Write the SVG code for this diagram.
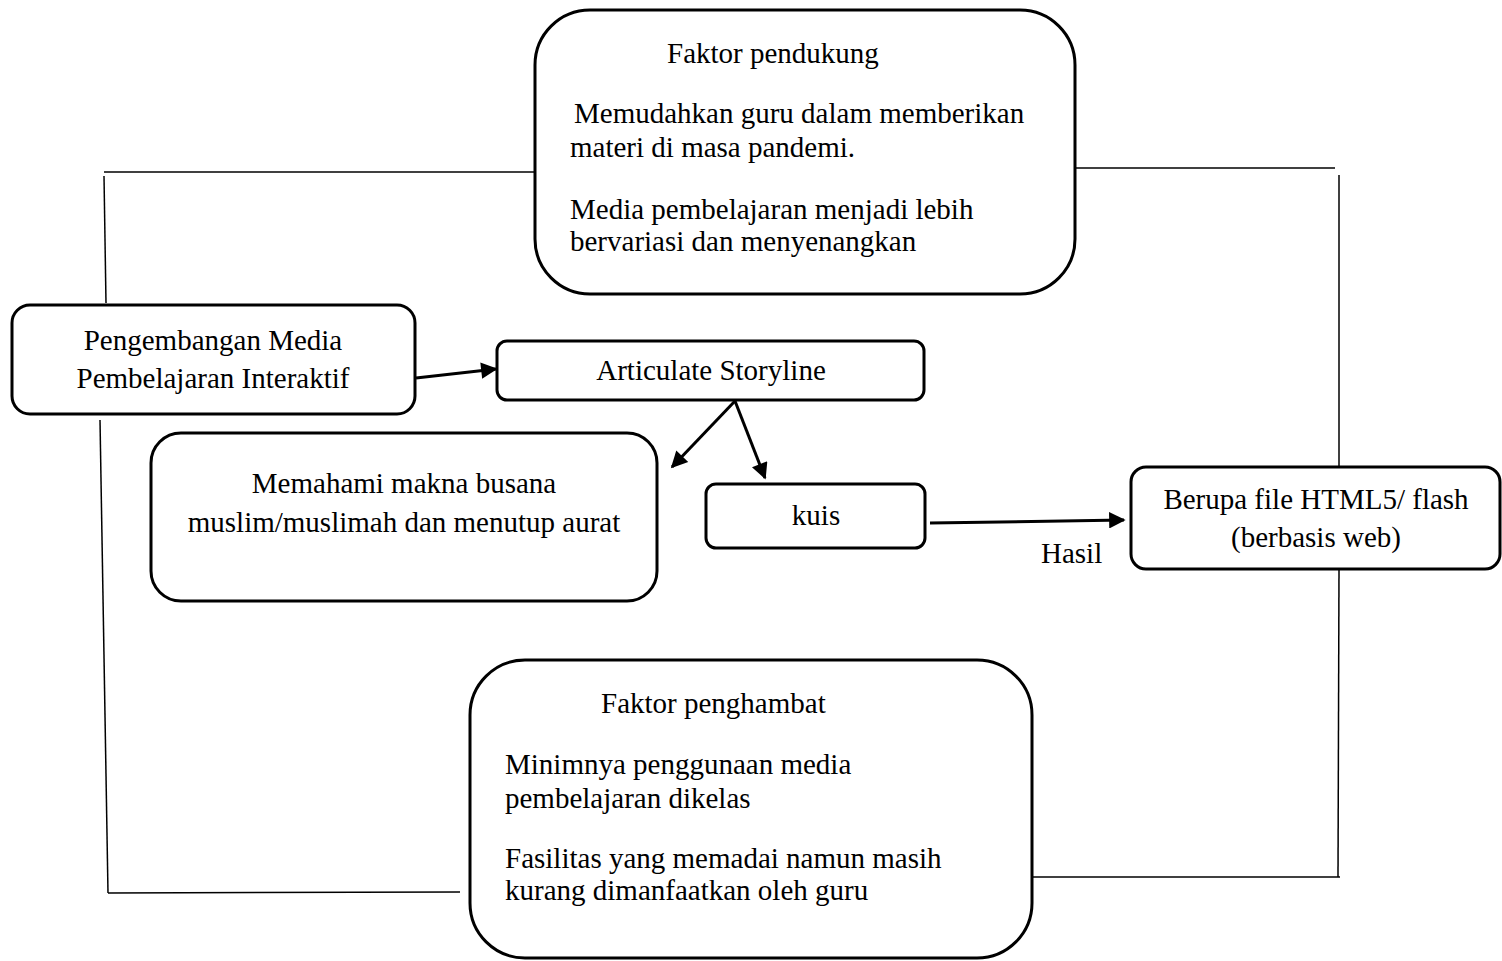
<svg xmlns="http://www.w3.org/2000/svg" width="1502" height="961" viewBox="0 0 1502 961">
<style>
.box{fill:#fff;stroke:#000;stroke-width:3}
.ln{fill:none;stroke:#000;stroke-width:1.5}
.ar{fill:none;stroke:#000;stroke-width:3}
text{font-family:"Liberation Serif","Times New Roman",serif;font-size:29px;fill:#000}
.c{text-anchor:middle}
</style>
<defs>
<marker id="ah" viewBox="0 0 10 10" refX="9" refY="5" markerWidth="6" markerHeight="5.5" orient="auto" markerUnits="strokeWidth">
<path d="M0,0 L10,5 L0,10 Z" fill="#000"/>
</marker>
</defs>
<rect width="1502" height="961" fill="#fff"/>
<g id="connectors">
<polyline class="ln" points="535,172 104,172"/>
<line class="ln" x1="104" y1="176" x2="106" y2="303"/>
<line class="ln" x1="100" y1="420" x2="108" y2="893"/>
<line class="ln" x1="108" y1="893" x2="460" y2="892"/>
<line class="ln" x1="1075" y1="168" x2="1335" y2="168"/>
<line class="ln" x1="1339" y1="175" x2="1339" y2="467"/>
<line class="ln" x1="1339" y1="569" x2="1338" y2="877"/>
<line class="ln" x1="1032" y1="877" x2="1340" y2="877"/>
<line class="ar" x1="416" y1="378" x2="496" y2="369" marker-end="url(#ah)"/>
<line class="ar" x1="735" y1="401" x2="672" y2="467" marker-end="url(#ah)"/>
<line class="ar" x1="735" y1="401" x2="765" y2="478" marker-end="url(#ah)"/>
<line class="ar" x1="930" y1="523" x2="1124" y2="520" marker-end="url(#ah)"/>
<text x="1041" y="563">Hasil</text>
</g>
<g id="faktor-pendukung">
<rect class="box" x="535" y="10" width="540" height="284" rx="55"/>
<text x="667" y="63">Faktor pendukung</text>
<text x="574" y="123">Memudahkan guru dalam memberikan</text>
<text x="570" y="157">materi di masa pandemi.</text>
<text x="570" y="219">Media pembelajaran menjadi lebih</text>
<text x="570" y="251">bervariasi dan menyenangkan</text>
</g>
<g id="pengembangan">
<rect class="box" x="12" y="305" width="403" height="109" rx="18"/>
<text class="c" x="213" y="350">Pengembangan Media</text>
<text class="c" x="213" y="388">Pembelajaran Interaktif</text>
</g>
<g id="articulate">
<rect class="box" x="497" y="341" width="427" height="59" rx="10"/>
<text class="c" x="711" y="380">Articulate Storyline</text>
</g>
<g id="memahami">
<rect class="box" x="151" y="433" width="506" height="168" rx="30"/>
<text class="c" x="404" y="493">Memahami makna busana</text>
<text class="c" x="404" y="532">muslim/muslimah dan menutup aurat</text>
</g>
<g id="kuis">
<rect class="box" x="706" y="484" width="219" height="64" rx="10"/>
<text class="c" x="816" y="525">kuis</text>
</g>
<g id="berupa">
<rect class="box" x="1131" y="467" width="369" height="102" rx="15"/>
<text class="c" x="1316" y="509">Berupa file HTML5/ flash</text>
<text class="c" x="1316" y="547">(berbasis web)</text>
</g>
<g id="faktor-penghambat">
<rect class="box" x="470" y="660" width="562" height="298" rx="55"/>
<text x="601" y="713">Faktor penghambat</text>
<text x="505" y="774">Minimnya penggunaan media</text>
<text x="505" y="808">pembelajaran dikelas</text>
<text x="505" y="868">Fasilitas yang memadai namun masih</text>
<text x="505" y="900">kurang dimanfaatkan oleh guru</text>
</g>
</svg>
